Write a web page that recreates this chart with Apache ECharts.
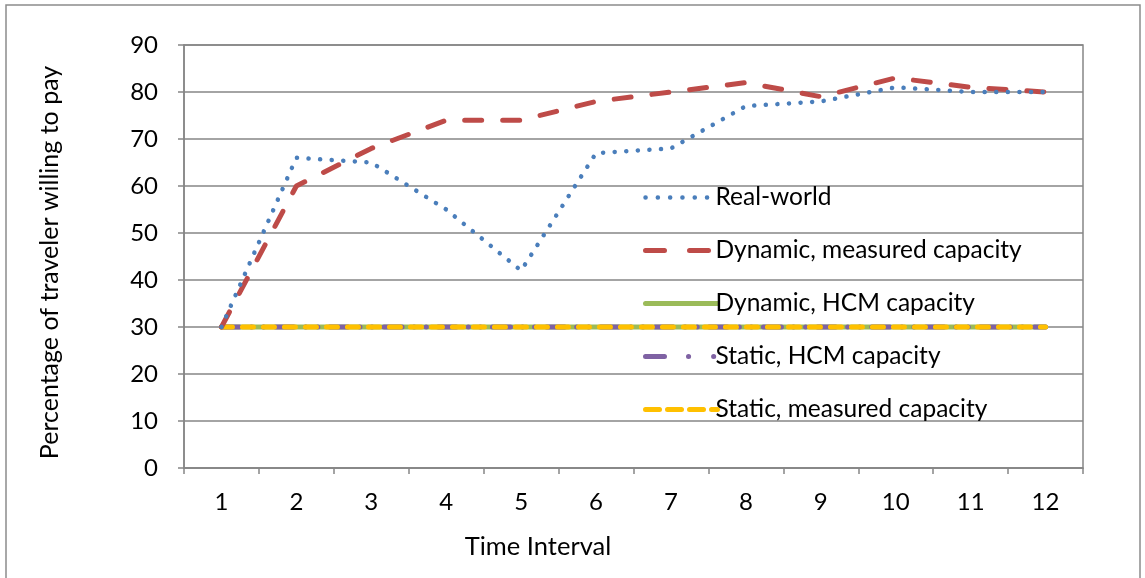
<!DOCTYPE html>
<html><head><meta charset="utf-8">
<script src="https://cdn.jsdelivr.net/npm/echarts@6/dist/echarts.min.js"></script>
<style>html,body{margin:0;padding:0;background:#fff}#c{width:1145px;height:578px}</style>
</head><body><div id="c"></div>
<script>
const categories = ['1','2','3','4','5','6','7','8','9','10','11','12'];
const realWorld = [30, 66, 65, 55, 42, 67, 68, 77, 78, 81, 80, 80];
const dynMeasured = [30, 60, 68, 74, 74, 78, 80, 82, 79, 83, 81, 80];
const dynHCM = [30, 30, 30, 30, 30, 30, 30, 30, 30, 30, 30, 30];
const staticHCM = [30, 30, 30, 30, 30, 30, 30, 30, 30, 30, 30, 30];
const staticMeasured = [30, 30, 30, 30, 30, 30, 30, 30, 30, 30, 30, 30];
const yTicks = {min: 0, max: 90, interval: 10};
const seriesNames = ['Real-world', 'Dynamic, measured capacity', 'Dynamic, HCM capacity', 'Static, HCM capacity', 'Static, measured capacity'];

const FONT = 'Lato';
const chart = echarts.init(document.getElementById('c'), null, {renderer: 'canvas'});
const axisGrey = '#868686';
const styles = [
  {color: '#4a7ebb', width: 4.5, type: [0.1, 11.5], cap: 'round'},
  {color: '#be4b48', width: 5, type: [17, 21], cap: 'round'},
  {color: '#9bbb59', width: 5, type: 'solid', cap: 'round'},
  {color: '#7f62a3', width: 5, type: [18, 12, 0.1, 12, 0.1, 12], cap: 'round'},
  {color: '#ffc000', width: 5, type: [11, 10], cap: 'round'}
];
const legendStyles = [
  {color: '#4a7ebb', width: 4.5, type: [0.1, 12.2], cap: 'round'},
  {color: '#be4b48', width: 5, type: [19, 25], cap: 'round'},
  {color: '#9bbb59', width: 5, type: 'solid', cap: 'round'},
  {color: '#7f62a3', width: 5, type: [19, 24, 0.1, 25, 0.1, 30], cap: 'round'},
  {color: '#ffc000', width: 5, type: [14, 8], cap: 'round'}
];
const datas = [realWorld, dynMeasured, dynHCM, staticHCM, staticMeasured];
const zs = [5, 4, 1, 2, 3];
chart.setOption({
  animation: false,
  textStyle: {fontFamily: FONT, color: '#000'},
  graphic: [{type: 'rect', shape: {x: 6, y: 5, width: 1134, height: 600}, style: {fill: 'none', stroke: '#8c8c8c', lineWidth: 1.5}, silent: true, z: -1}],
  grid: {left: 184, right: 62, top: 45, bottom: 110, show: true, borderColor: axisGrey, borderWidth: 1.5, containLabel: false},
  legend: {
    orient: 'vertical', left: 638, top: 180, itemWidth: 72, itemHeight: 28, itemGap: 28,
    textStyle: {fontFamily: FONT, fontSize: 24.5, color: '#000', padding: [0, 0, 0, -7]},
    data: seriesNames.map((n, i) => ({name: n, itemStyle: {opacity: 0}, lineStyle: legendStyles[i]}))
  },
  xAxis: {
    type: 'category', data: categories, boundaryGap: true,
    name: 'Time Interval', nameLocation: 'middle', nameGap: 66,
    nameTextStyle: {fontFamily: FONT, fontSize: 25.5, color: '#000', padding: [0, 191, 0, 0]},
    axisLine: {lineStyle: {color: axisGrey, width: 1.5}},
    axisTick: {show: true, length: 6, lineStyle: {color: axisGrey, width: 1.5}},
    axisLabel: {fontFamily: FONT, fontSize: 24, color: '#000', margin: 22},
    splitLine: {show: false}
  },
  yAxis: {
    type: 'value', min: yTicks.min, max: yTicks.max, interval: yTicks.interval,
    name: 'Percentage of traveler willing to pay', nameLocation: 'middle', nameGap: 122,
    nameTextStyle: {fontFamily: FONT, fontSize: 25, color: '#000', padding: [0, 12, 0, 0]},
    axisLine: {show: true, lineStyle: {color: axisGrey, width: 1.5}},
    axisTick: {show: true, length: 6, lineStyle: {color: axisGrey, width: 1.5}},
    axisLabel: {fontFamily: FONT, fontSize: 24, color: '#000', margin: 26},
    splitLine: {show: true, lineStyle: {color: axisGrey, width: 1.5}}
  },
  series: seriesNames.map((n, i) => ({
    name: n, type: 'line', data: datas[i], symbol: 'none', z: zs[i],
    lineStyle: styles[i], itemStyle: {color: styles[i].color}
  }))
});
</script></body></html>
